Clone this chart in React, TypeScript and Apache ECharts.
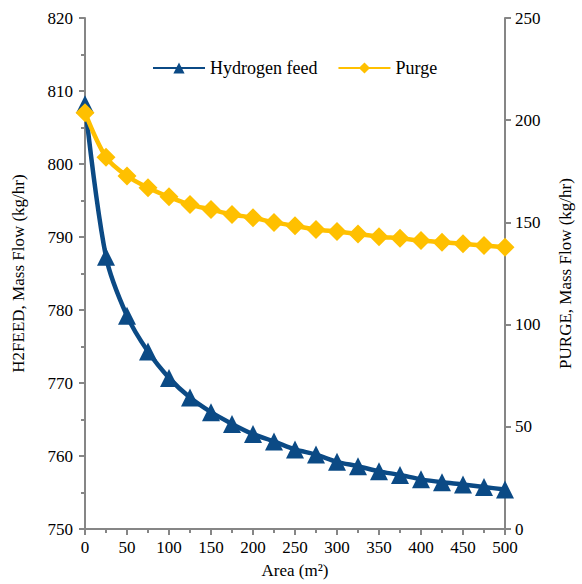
import React, { useEffect, useRef } from "react";
import * as echarts from "echarts";

const areas = [0, 25, 50, 75, 100, 125, 150, 175, 200, 225, 250, 275, 300, 325, 350, 375, 400, 425, 450, 475, 500];
const hydrogenFeed = [808.2, 787.3, 779.2, 774.3, 770.7, 768.0, 766.0, 764.4, 763.0, 762.0, 760.9, 760.2, 759.2, 758.6, 757.9, 757.4, 756.8, 756.4, 756.1, 755.75, 755.4];
const purge = [203.7, 181.9, 172.7, 167.0, 162.5, 158.7, 156.3, 153.9, 152.3, 150.0, 148.3, 146.5, 145.5, 144.3, 143.0, 142.2, 141.1, 140.3, 139.5, 138.7, 137.9];

const FONT = "Times New Roman, Liberation Serif, serif";
const AXIS_COLOR = "#868686";
const BLUE = "#0B4A85";
const YELLOW = "#FFC000";

export default function App() {
  const ref = useRef<HTMLDivElement>(null);
  useEffect(() => {
    if (!ref.current) return;
    const chart = echarts.init(ref.current, null, { renderer: "svg" });
    const labelStyle = { color: "#000", fontFamily: FONT, fontSize: 17 };
    const lineStyle = { color: AXIS_COLOR, width: 2 };
    chart.setOption({
      animation: false,
      backgroundColor: "#fff",
      textStyle: { fontFamily: FONT },
      grid: { left: 85, right: 77, top: 18, bottom: 51, containLabel: false },
      legend: {
        top: 54,
        left: 147,
        itemWidth: 52,
        itemHeight: 14,
        itemGap: 20,
        textStyle: { color: "#000", fontFamily: FONT, fontSize: 18 },
        data: ["Hydrogen feed", "Purge"],
      },
      xAxis: {
        type: "value",
        min: 0,
        max: 500,
        interval: 50,
        name: "Area (m²)",
        nameLocation: "middle",
        nameGap: 33,
        nameTextStyle: labelStyle,
        axisLine: { show: true, lineStyle },
        axisTick: { show: true, length: 6, lineStyle },
        minorTick: { show: true, splitNumber: 2, length: 4, lineStyle },
        splitLine: { show: false },
        axisLabel: { color: "#000", fontFamily: FONT, fontSize: 17, margin: 10 },
      },
      yAxis: [
        {
          type: "value",
          min: 750,
          max: 820,
          interval: 10,
          position: "left",
          name: "H2FEED, Mass Flow (kg/hr)",
          nameLocation: "middle",
          nameRotate: 90,
          nameGap: 58,
          nameTextStyle: labelStyle,
          axisLine: { show: true, lineStyle },
          axisTick: { show: true, length: 6, lineStyle },
          minorTick: { show: true, splitNumber: 2, length: 4, lineStyle },
          splitLine: { show: false },
          axisLabel: { color: "#000", fontFamily: FONT, fontSize: 17, margin: 12 },
        },
        {
          type: "value",
          min: 0,
          max: 250,
          interval: 50,
          position: "right",
          name: "PURGE, Mass Flow (kg/hr)",
          nameLocation: "middle",
          nameRotate: 90,
          nameGap: 52,
          nameTextStyle: labelStyle,
          axisLine: { show: true, lineStyle },
          axisTick: { show: true, length: 6, lineStyle },
          splitLine: { show: false },
          axisLabel: { color: "#000", fontFamily: FONT, fontSize: 17, margin: 10 },
        },
      ],
      series: [
        {
          name: "Hydrogen feed",
          type: "line",
          yAxisIndex: 0,
          smooth: 0.3,
          symbol: "triangle",
          symbolSize: 18,
          lineStyle: { color: BLUE, width: 4.5 },
          itemStyle: { color: BLUE },
          data: areas.map((a, i) => [a, hydrogenFeed[i]]),
          z: 2,
        },
        {
          name: "Purge",
          type: "line",
          yAxisIndex: 1,
          smooth: 0.3,
          symbol: "diamond",
          symbolSize: 19,
          lineStyle: { color: YELLOW, width: 4.5 },
          itemStyle: { color: YELLOW },
          data: areas.map((a, i) => [a, purge[i]]),
          z: 3,
        },
      ],
    });
    return () => chart.dispose();
  }, []);
  return <div ref={ref} style={{ width: 582, height: 584, position: "absolute", left: 0, top: 0 }} />;
}
